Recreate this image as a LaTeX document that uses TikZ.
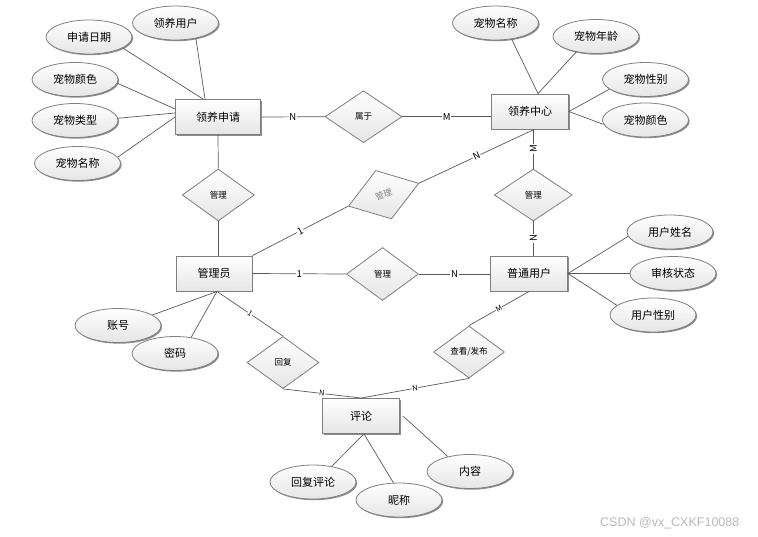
\documentclass[tikz,border=0pt]{standalone}
\usepackage{fontspec}
\setmainfont{Noto Sans CJK SC}
\newfontfamily\wmfont{Liberation Sans}
\usetikzlibrary{shapes.geometric,shadows}
\definecolor{bord}{HTML}{7F7F7F}
\definecolor{lin}{HTML}{5A5A5A}
\begin{document}
\begin{tikzpicture}[x=1pt,y=-1pt,
 shd/.style={drop shadow={shadow xshift=1.2pt,shadow yshift=-1.2pt,fill=black!45,opacity=1}},
 ent/.style={rectangle,draw=bord,line width=0.9pt,top color=white,bottom color=black!10,shd,minimum height=35pt,inner sep=0pt,font=\fontsize{11}{13}\selectfont},
 attr/.style={ellipse,draw=bord,line width=0.8pt,top color=white,bottom color=black!10,shd,minimum width=86pt,minimum height=34pt,inner sep=0pt,font=\fontsize{11}{13}\selectfont},
 rel/.style={diamond,draw=bord,line width=0.8pt,top color=white,bottom color=black!10,minimum width=74pt,minimum height=52pt,inner sep=0pt,font=\fontsize{8.5}{10}\selectfont},
 lnk/.style={draw=lin,line width=0.7pt},
 card/.style={fill=white,inner sep=0.8pt,font=\fontsize{9.5}{10}\selectfont},
 cards/.style={fill=white,inner sep=0.6pt,font=\fontsize{7.5}{8}\selectfont},
]
\useasboundingbox (0,0) rectangle (758,536);
% entities
\node[ent,minimum width=85pt] (lyjq) at (218,117) {领养申请};
\node[ent,minimum width=77pt] (lyzx) at (530,111.5) {领养中心};
\node[ent,minimum width=76pt] (gly) at (214,273.5) {管理员};
\node[ent,minimum width=77pt] (ptyh) at (529,273.5) {普通用户};
\node[ent,minimum width=77pt] (pl) at (361,416) {评论};
% attributes
\node[attr] (a1) at (175.5,23) {领养用户};
\node[attr] (a2) at (89,37) {申请日期};
\node[attr] (a3) at (75,79.5) {宠物颜色};
\node[attr] (a4) at (75,120.5) {宠物类型};
\node[attr] (a5) at (77.5,163.5) {宠物名称};
\node[attr] (b1) at (495.5,23) {宠物名称};
\node[attr] (b2) at (596,36.5) {宠物年龄};
\node[attr] (b3) at (645.5,79.5) {宠物性别};
\node[attr] (b4) at (645.5,120) {宠物颜色};
\node[attr] (c1) at (670,232) {用户姓名};
\node[attr] (c2) at (673,273.5) {审核状态};
\node[attr] (c3) at (653,315) {用户性别};
\node[attr] (d1) at (118,325.5) {账号};
\node[attr] (d2) at (175,353.5) {密码};
\node[attr] (e1) at (313,482) {回复评论};
\node[attr] (e2) at (399,500) {昵称};
\node[attr] (e3) at (470,471.5) {内容};
% relationships
\node[rel,minimum width=77pt] (r1) at (363.5,116.7) {属于};
\node[rel,minimum width=72pt] (r2) at (218.3,195) {管理};
\node[rel,minimum width=74pt,minimum height=51pt,rotate=18,text=gray] (r3) at (383.6,194.7) {管理};
\node[rel,minimum width=78pt] (r4) at (533.3,195) {管理};
\node[rel,minimum width=72pt,minimum height=53pt] (r5) at (382.5,274) {管理};
\node[rel,minimum width=72pt] (r6) at (283,362.5) {回复};
\node[rel,minimum width=71pt] (r7) at (469,352) {查看/发布};
% relationship links
\path[lnk] (lyjq.east) -- node[card]{N} (r1.west);
\path[lnk] (r1.east) -- node[card]{M} (r1.east -| lyzx.west);
\path[lnk] (r4.north) -- node[card,rotate=90]{M} (r4.north |- lyzx.south);
\path[lnk] (r4.south) -- node[card,rotate=90]{N} (r4.south |- ptyh.north);
\path[lnk] (gly.north east) -- node[card,sloped]{1} (r3.west);
\path[lnk] (r3.east) -- node[card,sloped]{N} ([xshift=4pt]lyzx.south);
\path[lnk] (gly.east) -- node[card]{1} (r5.west);
\path[lnk] (r5.east) -- node[card]{N} (r5.east -| ptyh.west);
\path[lnk] (lyjq.south) -- (r2.north);
\path[lnk] (r2.south) -- (r2.south |- gly.north);
\path[lnk] ([xshift=3pt]gly.south) -- node[cards,sloped]{1} (r6.north);
\path[lnk] (r6.south) -- node[cards,sloped]{N} (pl.north);
\path[lnk] (r7.south) -- node[cards,sloped]{N} (pl.north);
\path[lnk] (ptyh.south) -- node[cards,sloped]{M} (r7.north);
% attribute links
\path[lnk] (a1.-37) -- ([xshift=-13pt]lyjq.north);
\path[lnk] (a2.-18) -- ([xshift=-15pt]lyjq.north);
\path[lnk] (a3.-5) -- ([yshift=8pt]lyjq.west);
\path[lnk] (a4.3) -- ([yshift=4pt]lyjq.west);
\path[lnk] (a5.9) -- (lyjq.west);
\path[lnk] (b1.-45) -- ([xshift=8pt]lyzx.north);
\path[lnk] (b2.218) -- ([xshift=8pt]lyzx.north);
\path[lnk] (b3.195) -- (lyzx.east);
\path[lnk] (b4.186) -- (lyzx.east);
\path[lnk] (c1.186) -- (ptyh.east);
\path[lnk] (c2.west) -- (ptyh.east);
\path[lnk] (c3.165) -- (ptyh.east);
\path[lnk] (d1.17) -- ([xshift=3pt]gly.south);
\path[lnk] (d2.45) -- ([xshift=3pt]gly.south);
\path[lnk] (e1.40) -- ([xshift=3pt]pl.south);
\path[lnk] (e2.108) -- ([xshift=3pt]pl.south);
\path[lnk] (e3.146) -- ([xshift=3pt]pl.east);
% watermark
\node[anchor=west,text=black!28,inner sep=0pt,font=\wmfont\fontsize{12.5}{13}\selectfont] (wm) at (600,523) {CSDN @vx\_CXKF10088};
\end{tikzpicture}
\end{document}
